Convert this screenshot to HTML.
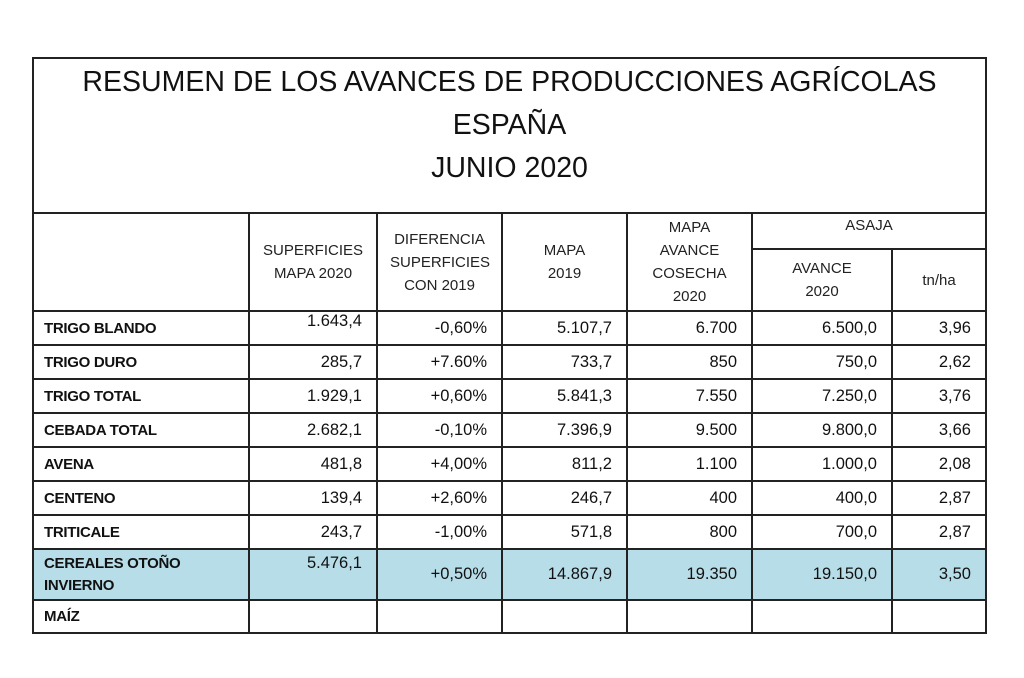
<!DOCTYPE html>
<html><head><meta charset="utf-8"><style>
body{margin:0;background:#fff;width:1024px;height:678px;overflow:hidden;font-family:"Liberation Sans",sans-serif;color:#111}
table{position:absolute;left:32px;top:57px;width:953px;border-collapse:collapse;table-layout:fixed}
td{border:2px solid #222;padding:0 12px;font-size:16.5px;white-space:nowrap}
.t{height:151px;text-align:center;font-size:28.5px;line-height:43px;padding-top:2px;vertical-align:top}
.h{text-align:center;font-size:15px;line-height:23px;color:#222}
.n{text-align:right;padding-right:14px}
.l{font-weight:bold;font-size:15px;padding-left:10px;letter-spacing:-0.3px}
tr.r{height:34px}
.b td{background:#b7dde8}
</style></head><body>
<table>
<colgroup><col style="width:216px"><col style="width:128px"><col style="width:125px"><col style="width:125px"><col style="width:125px"><col style="width:140px"><col style="width:94px"></colgroup>
<tr><td class="t" colspan="7">RESUMEN DE LOS AVANCES DE PRODUCCIONES AGRÍCOLAS<br>ESPAÑA<br>JUNIO 2020</td></tr>
<tr style="height:36px"><td rowspan="2"></td><td class="h" rowspan="2">SUPERFICIES<br>MAPA 2020</td><td class="h" rowspan="2">DIFERENCIA<br>SUPERFICIES<br>CON 2019</td><td class="h" rowspan="2">MAPA<br>2019</td><td class="h" rowspan="2">MAPA<br>AVANCE<br>COSECHA<br>2020</td><td class="h" colspan="2" style="vertical-align:top">ASAJA</td></tr>
<tr style="height:62px"><td class="h">AVANCE<br>2020</td><td class="h">tn/ha</td></tr>
<tr class="r"><td class="l">TRIGO BLANDO</td><td class="n" style="vertical-align:top">1.643,4</td><td class="n">-0,60%</td><td class="n">5.107,7</td><td class="n">6.700</td><td class="n">6.500,0</td><td class="n">3,96</td></tr>
<tr class="r"><td class="l">TRIGO DURO</td><td class="n">285,7</td><td class="n">+7.60%</td><td class="n">733,7</td><td class="n">850</td><td class="n">750,0</td><td class="n">2,62</td></tr>
<tr class="r"><td class="l">TRIGO TOTAL</td><td class="n">1.929,1</td><td class="n">+0,60%</td><td class="n">5.841,3</td><td class="n">7.550</td><td class="n">7.250,0</td><td class="n">3,76</td></tr>
<tr class="r"><td class="l">CEBADA TOTAL</td><td class="n">2.682,1</td><td class="n">-0,10%</td><td class="n">7.396,9</td><td class="n">9.500</td><td class="n">9.800,0</td><td class="n">3,66</td></tr>
<tr class="r"><td class="l">AVENA</td><td class="n">481,8</td><td class="n">+4,00%</td><td class="n">811,2</td><td class="n">1.100</td><td class="n">1.000,0</td><td class="n">2,08</td></tr>
<tr class="r"><td class="l">CENTENO</td><td class="n">139,4</td><td class="n">+2,60%</td><td class="n">246,7</td><td class="n">400</td><td class="n">400,0</td><td class="n">2,87</td></tr>
<tr class="r"><td class="l">TRITICALE</td><td class="n">243,7</td><td class="n">-1,00%</td><td class="n">571,8</td><td class="n">800</td><td class="n">700,0</td><td class="n">2,87</td></tr>
<tr class="b" style="height:51px"><td class="l" style="line-height:22px">CEREALES OTOÑO<br>INVIERNO</td><td class="n" style="vertical-align:top;padding-top:4px">5.476,1</td><td class="n">+0,50%</td><td class="n">14.867,9</td><td class="n">19.350</td><td class="n">19.150,0</td><td class="n">3,50</td></tr>
<tr style="height:33px"><td class="l">MAÍZ</td><td></td><td></td><td></td><td></td><td></td><td></td></tr>
</table>
</body></html>
